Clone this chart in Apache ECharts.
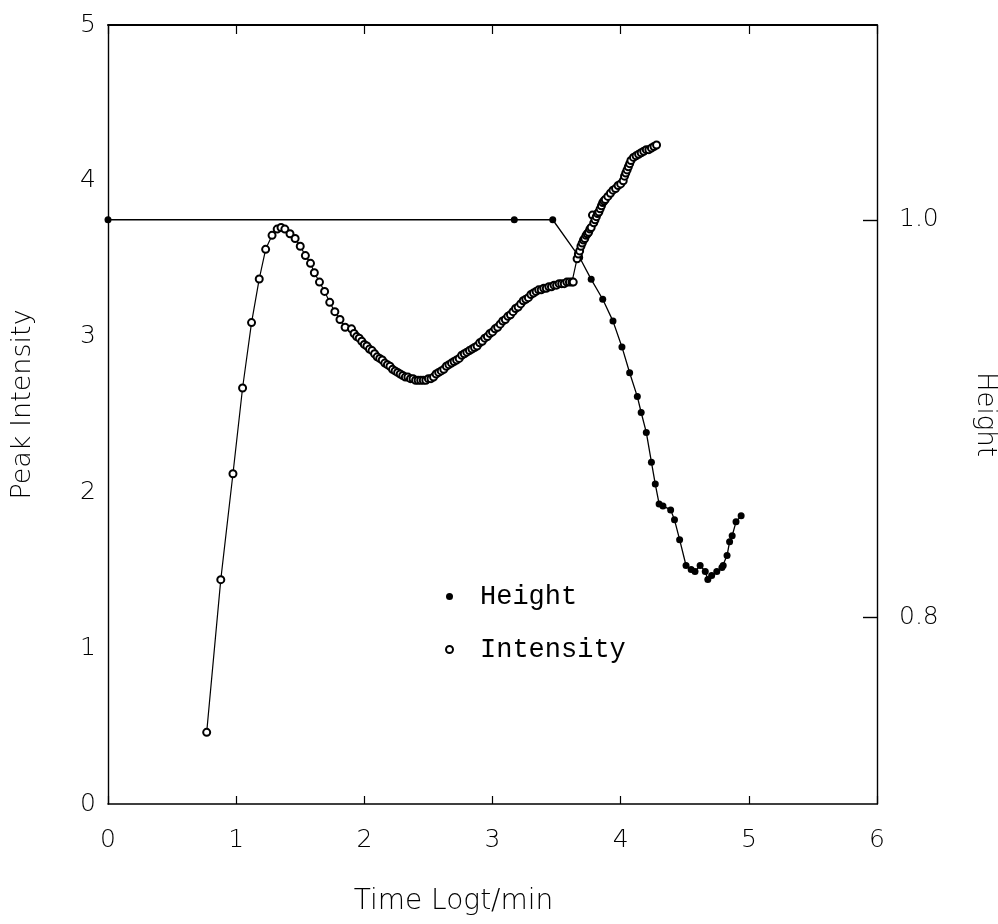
<!DOCTYPE html>
<html>
<head>
<meta charset="utf-8">
<script src="https://cdn.jsdelivr.net/npm/echarts@6/dist/echarts.min.js"></script>
<style>html,body{margin:0;padding:0;background:#fff}#c{width:998px;height:924px}</style>
</head>
<body>
<div id="c"></div>
<script>
// Intensity (left axis), open circles
const intensityX = [0.77,0.88,0.975,1.05,1.12,1.18,1.23,1.28,1.32,1.35,1.38,1.42,1.46,1.50,1.54,1.58,1.61,1.65,1.69,1.73,1.77,1.81,1.85,1.90,
  1.92,1.94,1.96,1.98,2.00,2.02,2.04,2.06,2.08,2.10,2.12,2.14,2.16,2.18,2.20,2.22,2.24,2.26,2.28,2.30,2.32,2.34,2.36,2.38,2.40,
  2.42,2.44,2.46,2.48,2.50,2.52,2.54,2.56,2.58,2.60,2.62,2.64,2.66,2.68,2.70,2.72,2.74,2.76,2.78,2.80,2.82,2.84,2.86,2.88,2.90,
  2.92,2.94,2.96,2.98,3.00,3.02,3.04,3.06,3.08,3.10,3.12,3.14,3.16,3.18,3.20,3.22,3.24,3.26,3.28,3.30,3.32,3.34,3.36,3.38,3.40,
  3.42,3.44,3.46,3.48,3.50,3.52,3.54,3.56,3.58,3.60,3.62,3.63,
  3.66,3.67,3.68,3.69,3.70,3.71,3.72,3.73,3.74,3.75,3.76,3.77,3.78,3.79,3.80,3.81,3.82,3.83,3.84,3.85,3.86,3.87,3.88,3.90,3.92,
  3.94,3.96,3.98,4.00,4.02,4.03,4.04,4.05,4.06,4.07,4.08,4.10,4.12,4.14,4.16,4.18,4.20,4.22,4.24,4.26,4.28];
const intensityY = [0.46,1.44,2.12,2.67,3.09,3.37,3.56,3.65,3.69,3.70,3.69,3.66,3.63,3.58,3.52,3.47,3.41,3.35,3.29,3.22,3.16,3.11,3.06,3.05,
  3.02,3.00,2.99,2.97,2.95,2.94,2.92,2.91,2.89,2.87,2.86,2.85,2.83,2.82,2.81,2.79,2.78,2.77,2.76,2.75,2.74,2.74,2.73,2.73,2.72,
  2.72,2.72,2.72,2.72,2.73,2.73,2.74,2.76,2.77,2.78,2.79,2.81,2.82,2.83,2.84,2.85,2.86,2.88,2.89,2.90,2.91,2.92,2.93,2.94,2.96,
  2.97,2.99,3.00,3.02,3.03,3.05,3.06,3.08,3.10,3.11,3.13,3.14,3.16,3.18,3.19,3.21,3.23,3.24,3.25,3.27,3.28,3.29,3.30,3.30,3.31,
  3.31,3.32,3.32,3.33,3.33,3.34,3.34,3.34,3.35,3.35,3.35,3.35,
  3.50,3.53,3.55,3.58,3.60,3.62,3.63,3.65,3.66,3.67,3.69,3.70,3.78,3.73,3.75,3.77,3.79,3.80,3.82,3.84,3.86,3.87,3.88,3.90,3.92,
  3.94,3.95,3.97,3.98,4.00,4.03,4.05,4.07,4.09,4.11,4.13,4.15,4.16,4.17,4.18,4.19,4.20,4.20,4.21,4.22,4.23];
// Height (right axis), filled dots
const heightX = [0,3.17,3.47,3.68,3.77,3.86,3.94,4.01,4.07,4.13,4.16,4.20,4.24,4.27,4.30,4.33,4.39,4.42,4.46,4.51,4.55,4.58,4.62,4.66,4.68,4.71,4.75,4.79,4.80,4.83,4.85,4.87,4.90,4.94];
const heightY = [1.0,1.0,1.0,0.981,0.970,0.960,0.949,0.936,0.923,0.911,0.903,0.893,0.878,0.867,0.857,0.856,0.854,0.849,0.839,0.826,0.824,0.823,0.826,0.823,0.819,0.821,0.823,0.825,0.826,0.831,0.838,0.841,0.848,0.851];
// Axis ticks
const xTicks = [0,1,2,3,4,5,6];
const leftTicks = [0,1,2,3,4,5];
const rightTicks = [0.8,1.0];

const font = 'DejaVu Sans';
const axisCol = '#000';
const chart = echarts.init(document.getElementById('c'), null, {renderer:'canvas'});
chart.setOption({
  backgroundColor:'#fff',
  animation:false,
  grid:{left:108,right:121,top:25,bottom:120,outerBoundsMode:'none',containLabel:false},
  legend:{
    orient:'vertical', left:440, top:578, itemGap:26, itemWidth:7, itemHeight:7,
    data:[{name:'Height',icon:'circle'},{name:'Intensity',icon:'emptyCircle'}],
    textStyle:{fontFamily:'Liberation Mono',fontSize:27,color:'#000',padding:[0,0,0,22]}
  },
  xAxis:[{
    type:'value', min:xTicks[0], max:xTicks[xTicks.length-1], interval:1, position:'bottom',
    name:'Time Logt/min', nameLocation:'middle', nameGap:84,
    nameTextStyle:{fontFamily:font,fontSize:28,fontWeight:200,color:'#000',padding:[0,78,0,0]},
    axisLine:{onZero:false,lineStyle:{color:axisCol,width:1.6}},
    axisTick:{inside:true,length:8,lineStyle:{color:axisCol,width:1.2}},
    axisLabel:{fontFamily:font,fontSize:25,fontWeight:200,color:'#000',margin:24},
    splitLine:{show:false}
  },{
    type:'value', min:xTicks[0], max:xTicks[xTicks.length-1], interval:1, position:'top',
    axisLine:{show:true,onZero:false,lineStyle:{color:axisCol,width:2}},
    axisTick:{show:true,inside:true,length:9,lineStyle:{color:axisCol,width:1.2}},
    axisLabel:{show:false}, splitLine:{show:false}
  }],
  yAxis:[{
    type:'value', min:leftTicks[0], max:leftTicks[leftTicks.length-1], interval:1, position:'left',
    name:'Peak Intensity', nameLocation:'middle', nameGap:72,
    nameTextStyle:{fontFamily:font,fontSize:27,fontWeight:200,color:'#000',padding:[0,0,0,20]},
    axisLine:{show:true,onZero:false,lineStyle:{color:axisCol,width:1.4}},
    axisTick:{show:false},
    axisLabel:{fontFamily:font,fontSize:25,fontWeight:200,color:'#000',margin:12},
    splitLine:{show:false}
  },{
    type:'value', min:0.706, max:1.098, position:'right',
    name:'Height', nameLocation:'middle', nameGap:95, nameRotate:-90,
    nameTextStyle:{fontFamily:font,fontSize:26,fontWeight:200,color:'#000'},
    axisLine:{show:true,onZero:false,lineStyle:{color:axisCol,width:1.4}},
    axisTick:{show:true,inside:true,length:14,customValues:rightTicks,lineStyle:{color:axisCol,width:1.4}},
    axisLabel:{fontFamily:font,fontSize:25,fontWeight:200,color:'#000',margin:22,customValues:rightTicks,
      formatter:v=>v.toFixed(1)},
    splitLine:{show:false}
  }],
  series:[{
    name:'Height', type:'line', xAxisIndex:0, yAxisIndex:1,
    data:heightX.map((x,i)=>[x,heightY[i]]),
    symbol:'circle', symbolSize:7,
    itemStyle:{color:'#000'}, lineStyle:{color:'#000',width:1.3}
  },{
    name:'Intensity', type:'line', xAxisIndex:0, yAxisIndex:0,
    data:intensityX.map((x,i)=>[x,intensityY[i]]),
    symbol:'emptyCircle', symbolSize:7,
    itemStyle:{color:'#000',borderColor:'#000',borderWidth:2}, lineStyle:{color:'#000',width:1.2}
  }]
});
</script>
</body>
</html>
